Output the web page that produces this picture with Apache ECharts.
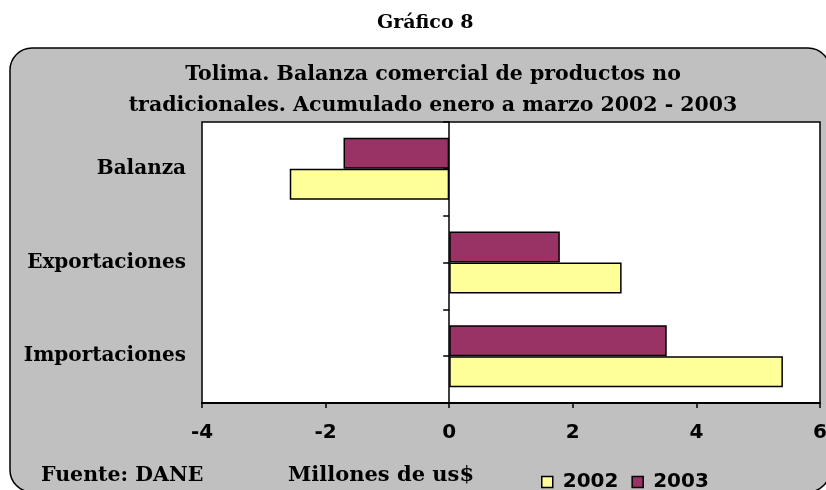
<!DOCTYPE html>
<html>
<head>
<meta charset="utf-8">
<script src="https://cdn.jsdelivr.net/npm/echarts@6/dist/echarts.min.js"></script>
<style>
  html, body { margin: 0; padding: 0; background: #fff; }
  #chart { width: 826px; height: 490px; }
</style>
</head>
<body>
<div id="chart"></div>
<script>
// datos (millones de us$)
const categories = ['Importaciones', 'Exportaciones', 'Balanza'];
const years = ['2002', '2003'];
const values2002 = [5.40, 2.79, -2.58];
const values2003 = [3.52, 1.79, -1.71];
const xTicks = [-4, -2, 0, 2, 4, 6];

const serif = '"DejaVu Serif", serif';
const sans = '"DejaVu Sans", sans-serif';

const chart = echarts.init(document.getElementById('chart'));

const option = {
  animation: false,
  backgroundColor: '#fff',
  graphic: [
    {
      type: 'rect', z: -100,
      shape: { x: 10, y: 48, width: 820, height: 444, r: 22 },
      style: { fill: '#C0C0C0', stroke: '#000', lineWidth: 1.5 }
    },
    {
      type: 'text', left: 377, top: 14,
      style: { text: 'Gráfico 8', font: 'bold 19px ' + serif, fill: '#000' }
    },
    {
      type: 'text', left: 41, top: 465,
      style: { text: 'Fuente: DANE', font: 'bold 20.5px ' + serif, fill: '#000' }
    },
    {
      type: 'text', left: 288, top: 465,
      style: { text: 'Millones de us$', font: 'bold 21px ' + serif, fill: '#000' }
    }
  ],
  title: {
    text: 'Tolima. Balanza comercial de productos no\ntradicionales. Acumulado enero a marzo 2002 - 2003',
    left: 428, top: 54, textAlign: 'center',
    textStyle: { fontFamily: serif, fontWeight: 'bold', fontSize: 20.5, lineHeight: 31, color: '#000' }
  },
  legend: {
    data: years,
    left: 536, top: 467,
    icon: 'rect', itemWidth: 11, itemHeight: 11, itemGap: 13,
    itemStyle: { borderColor: '#000', borderWidth: 1.5 },
    textStyle: { fontFamily: sans, fontWeight: 'bold', fontSize: 20, color: '#000', padding: [0, 0, 0, 5] }
  },
  grid: {
    left: 202, right: 6, top: 122, bottom: 87,
    outerBoundsMode: 'none',
    show: true, backgroundColor: '#fff', borderColor: '#000', borderWidth: 1.5
  },
  xAxis: {
    type: 'value',
    min: xTicks[0], max: xTicks[xTicks.length - 1], interval: 2,
    axisLine: { show: true, onZero: false, lineStyle: { color: '#000', width: 2 } },
    axisTick: { show: true, length: 5, lineStyle: { color: '#000', width: 1.5 } },
    axisLabel: { margin: 20, color: '#000', fontFamily: sans, fontWeight: 'bold', fontSize: 20 },
    splitLine: { show: false }
  },
  yAxis: [
    {
      type: 'category', data: categories, position: 'left',
      axisLine: { show: false, onZero: false }, axisTick: { show: false },
      axisLabel: { margin: 16, color: '#000', fontFamily: serif, fontWeight: 'bold', fontSize: 20 }
    },
    {
      // eje en cero con marcas cada media categoria
      type: 'category', data: ['', '', '', '', '', ''], position: 'left',
      axisLine: { show: true, onZero: true, lineStyle: { color: '#000', width: 1.5 } },
      axisTick: { show: true, length: 6, lineStyle: { color: '#000', width: 1.5 } },
      axisLabel: { show: false }
    }
  ],
  series: [
    {
      name: years[1], type: 'bar', yAxisIndex: 0, data: values2003,
      barWidth: 31, barGap: '0%',
      itemStyle: { color: '#993366', borderColor: '#000', borderWidth: 1.5 }
    },
    {
      name: years[0], type: 'bar', yAxisIndex: 0, data: values2002,
      barWidth: 31, barGap: '0%',
      itemStyle: { color: '#FFFF99', borderColor: '#000', borderWidth: 1.5 }
    }
  ]
};

chart.setOption(option);
</script>
</body>
</html>
